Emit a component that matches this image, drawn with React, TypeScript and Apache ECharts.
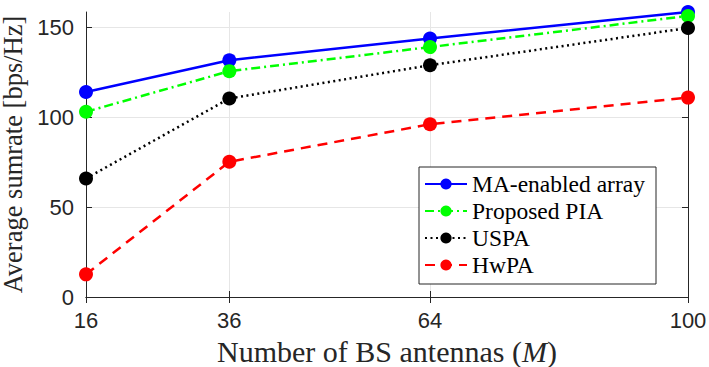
import React, { useEffect, useRef } from "react";
import * as echarts from "echarts";

const antennas = [16, 36, 64, 100];
const xTicks = [16, 36, 64, 100];
const yTicks = [0, 50, 100, 150];
const maEnabled = [114, 131.7, 143.7, 158.5];
const proposedPIA = [103, 125.6, 139, 156.3];
const uspa = [65.9, 110.4, 128.9, 149.6];
const hwpa = [12.6, 75.2, 96.1, 110.9];

const seriesNames = ["MA-enabled array", "Proposed PIA", "USPA", "HwPA"];
const seriesData = [maEnabled, proposedPIA, uspa, hwpa];
const seriesColors = ["#0000ff", "#00ff00", "#000000", "#ff0000"];
const seriesDash: any[] = ["solid", [9, 4, 2, 4], [2, 3.5], [10, 7]];

const AX = "#262626";
const SERIF = "'Liberation Serif', 'Times New Roman', serif";
const SANS = "'Liberation Sans', Arial, sans-serif";

export default function App() {
  const ref = useRef<HTMLDivElement>(null);
  useEffect(() => {
    if (!ref.current) return;
    const chart = echarts.init(ref.current, null, { renderer: "svg" });
    const series = seriesNames.map((name, i) => ({
      name,
      type: "line",
      data: antennas.map((m, j) => [m, seriesData[i][j]]),
      xAxisIndex: 0,
      yAxisIndex: 0,
      symbol: "circle",
      symbolSize: 14,
      itemStyle: { color: seriesColors[i] },
      lineStyle: { color: seriesColors[i], width: 2.5, type: seriesDash[i] },
    }));
    chart.setOption({
      animation: false,
      grid: { left: 86, right: 21, top: 12, bottom: 70, outerBoundsMode: "none", containLabel: false },
      xAxis: [
        {
          type: "value",
          min: 16,
          max: 100,
          position: "bottom",
          name: "Number of BS antennas ({i|M})",
          nameLocation: "middle",
          nameGap: 39,
          nameTextStyle: {
            fontFamily: SERIF,
            fontSize: 30,
            color: AX,
            rich: { i: { fontStyle: "italic", fontFamily: SERIF, fontSize: 30, color: AX } },
          },
          axisLine: { show: true, lineStyle: { color: AX, width: 1 } },
          axisTick: { show: true, inside: true, length: 6, customValues: xTicks, lineStyle: { color: AX } },
          axisLabel: { customValues: xTicks, fontFamily: SANS, fontSize: 22, color: AX, margin: 12 },
          splitLine: { show: true, lineStyle: { color: "#e6e6e6", width: 1 } },
        },
        {
          type: "value",
          min: 16,
          max: 100,
          position: "top",
          axisLine: { show: true, lineStyle: { color: AX, width: 1 } },
          axisTick: { show: true, inside: true, length: 6, customValues: xTicks, lineStyle: { color: AX } },
          axisLabel: { show: false },
          splitLine: { show: false },
        },
      ],
      yAxis: [
        {
          type: "value",
          min: 0,
          max: 158.5,
          position: "left",
          name: "Average sumrate [bps/Hz]",
          nameLocation: "middle",
          nameGap: 50,
          nameTextStyle: { fontFamily: SERIF, fontSize: 26.5, color: AX },
          axisLine: { show: true, lineStyle: { color: AX, width: 1 } },
          axisTick: { show: true, inside: true, length: 6, customValues: yTicks, lineStyle: { color: AX } },
          axisLabel: { customValues: yTicks, fontFamily: SANS, fontSize: 22, color: AX, margin: 12 },
          splitLine: { show: true, lineStyle: { color: "#e6e6e6", width: 1 } },
        },
        {
          type: "value",
          min: 0,
          max: 158.5,
          position: "right",
          axisLine: { show: true, lineStyle: { color: AX, width: 1 } },
          axisTick: { show: true, inside: true, length: 6, customValues: yTicks, lineStyle: { color: AX } },
          axisLabel: { show: false },
          splitLine: { show: false },
        },
      ],
      graphic: [
        {
          type: "rect",
          z: 10,
          shape: { x: 419, y: 167, width: 237, height: 117 },
          style: { fill: "#ffffff", stroke: AX, lineWidth: 1 },
        },
      ],
      legend: {
        orient: "vertical",
        left: 419,
        top: 167,
        z: 20,
        itemWidth: 42,
        itemHeight: 14,
        itemGap: 3,
        padding: [5, 8, 9, 5],
        data: seriesNames,
        textStyle: { fontFamily: SERIF, fontSize: 23.5, lineHeight: 24, color: "#000" },
      },
      series,
    });
    return () => chart.dispose();
  }, []);
  return <div ref={ref} style={{ width: 709, height: 367, position: "absolute", left: 0, top: 0 }} />;
}
